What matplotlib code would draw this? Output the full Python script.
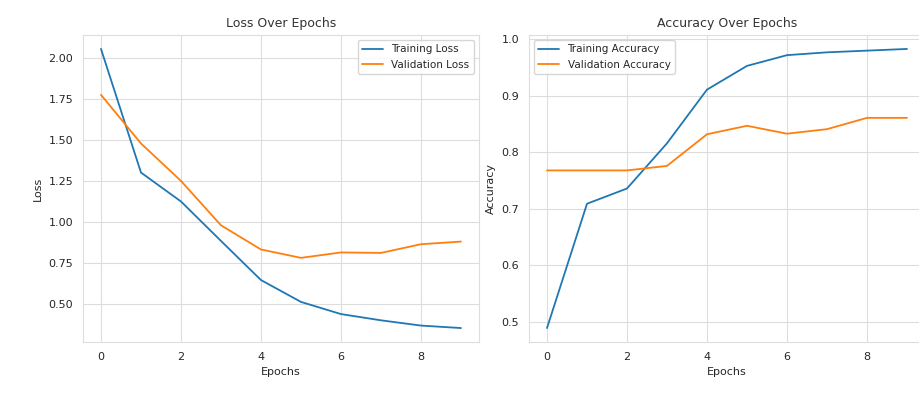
import matplotlib
matplotlib.use("Agg")
import matplotlib.pyplot as plt
import seaborn as sns

epochs = list(range(10))
train_loss = [2.053, 1.301, 1.125, 0.885, 0.647, 0.514, 0.440, 0.402, 0.370, 0.355]
val_loss = [1.774, 1.478, 1.250, 0.980, 0.833, 0.782, 0.815, 0.812, 0.865, 0.881]
train_acc = [0.489, 0.709, 0.736, 0.816, 0.911, 0.953, 0.972, 0.977, 0.980, 0.983]
val_acc = [0.768, 0.768, 0.768, 0.776, 0.832, 0.847, 0.833, 0.841, 0.861, 0.861]

sns.set_style("whitegrid", {"grid.color": "#dddddd", "axes.edgecolor": "#dddddd"})
plt.rcParams['font.family'] = ['DejaVu Sans']

fig = plt.figure(figsize=(9.2, 3.98), dpi=100)
ax1 = fig.add_axes([0.0902, 0.1407, 0.4304, 0.7714])
ax2 = fig.add_axes([0.575, 0.1407, 0.4304, 0.7714])

ax1.plot(epochs, train_loss, lw=1.3, label="Training Loss")
ax1.plot(epochs, val_loss, lw=1.3, label="Validation Loss")
ax1.set_title("Loss Over Epochs", fontsize=9, color="#333333")
ax1.set_xlabel("Epochs", fontsize=8)
ax1.set_ylabel("Loss", fontsize=8)
ax1.tick_params(labelsize=8)
ax1.legend(loc="upper right", fontsize=7.5)

ax2.plot(epochs, train_acc, lw=1.3, label="Training Accuracy")
ax2.plot(epochs, val_acc, lw=1.3, label="Validation Accuracy")
ax2.set_title("Accuracy Over Epochs", fontsize=9, color="#333333")
ax2.set_xlabel("Epochs", fontsize=8)
ax2.set_ylabel("Accuracy", fontsize=8)
ax2.tick_params(labelsize=8)
ax2.legend(loc="upper left", fontsize=7.5)

fig.savefig("out.png", dpi=100)
